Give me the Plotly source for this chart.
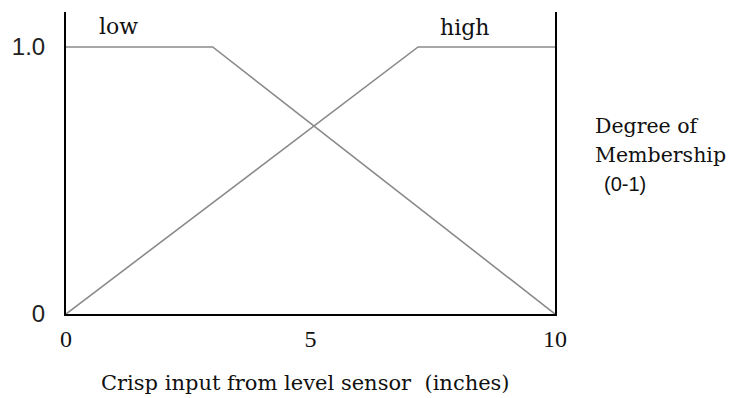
import plotly.graph_objects as go

# Membership functions
low_x = [0, 3, 10]
low_y = [1, 1, 0]
high_x = [0, 7.2, 10]
high_y = [0, 1, 1]

x_ticks = [0, 5, 10]
x_tick_text = ["0", "5", "10"]
y_ticks = [0, 1]
y_tick_text = ["0", "1.0"]

fig = go.Figure()
line_style = dict(color="#8a8a8a", width=1.6)
fig.add_trace(go.Scatter(x=low_x, y=low_y, mode="lines", line=line_style,
                         cliponaxis=False, showlegend=False, hoverinfo="skip"))
fig.add_trace(go.Scatter(x=high_x, y=high_y, mode="lines", line=line_style,
                         cliponaxis=False, showlegend=False, hoverinfo="skip"))

serif = "DejaVu Serif"
fig.add_annotation(x=1.075, y=1.075, xref="x", yref="y", text="low", showarrow=False,
                   font=dict(family=serif, size=22, color="#111"))
fig.add_annotation(x=8.15, y=1.072, xref="x", yref="y", text="high", showarrow=False,
                   font=dict(family=serif, size=22, color="#111"))

fig.add_annotation(x=1.077, y=0.622, xref="paper", yref="paper", text="Degree of",
                   showarrow=False, xanchor="left", yanchor="middle",
                   font=dict(family=serif, size=20.5, color="#111"))
fig.add_annotation(x=1.077, y=0.528, xref="paper", yref="paper", text="Membership",
                   showarrow=False, xanchor="left", yanchor="middle",
                   font=dict(family=serif, size=20.5, color="#111"))
fig.add_annotation(x=1.097, y=0.430, xref="paper", yref="paper", text="(0-1)",
                   showarrow=False, xanchor="left", yanchor="middle",
                   font=dict(family="Liberation Sans", size=20, color="#111"))

fig.add_annotation(x=0.489, y=-0.228, xref="paper", yref="paper",
                   text="Crisp input from level sensor&nbsp; (inches)",
                   showarrow=False, xanchor="center", yanchor="middle",
                   font=dict(family=serif, size=21, color="#111"))

fig.update_layout(
    width=729, height=398,
    margin=dict(l=62, r=174, t=12, b=84),
    paper_bgcolor="white", plot_bgcolor="white",
    xaxis=dict(range=[0, 10], tickvals=x_ticks, ticktext=x_tick_text,
               showgrid=False, zeroline=False, showline=True, linecolor="black",
               linewidth=2, ticks="", ticklabelstandoff=2,
               tickfont=dict(family="Liberation Serif", size=24, color="#111")),
    yaxis=dict(range=[0, 1.131], tickvals=y_ticks, ticktext=y_tick_text,
               showgrid=False, zeroline=False, showline=True, mirror=True,
               linecolor="black", linewidth=2, ticks="", ticklabelstandoff=14,
               tickfont=dict(family="Liberation Sans", size=24, color="#222")),
)

# remove the browser's default 8px body margin so the figure fills the window
fig.write_html("out.html",
               config={"displayModeBar": False},
               post_script="document.body.style.margin='0px';document.body.style.overflow='hidden';")
